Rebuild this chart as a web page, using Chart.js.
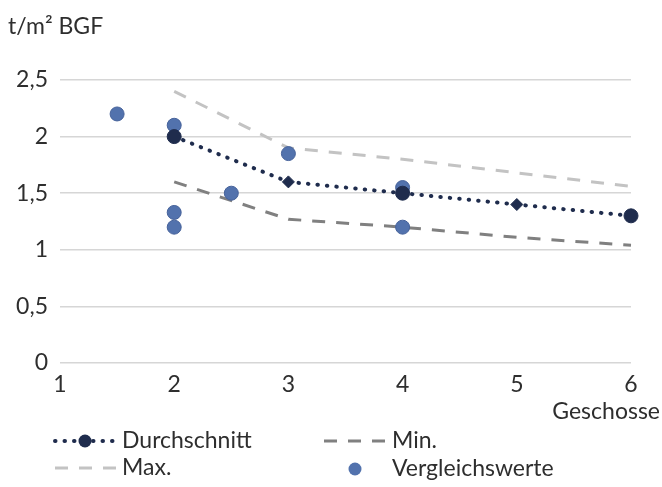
<!DOCTYPE html>
<html>
<head>
<meta charset="utf-8">
<script src="https://cdn.jsdelivr.net/npm/chart.js"></script>
<style>
  html, body { margin: 0; padding: 0; background: #fff; }
  #wrap { width: 662px; height: 487px; }
</style>
</head>
<body>
<div id="wrap"><canvas id="chart" width="662" height="487"></canvas></div>
<script>
// Werte
const geschosse = [2, 3, 4, 5, 6];
const durchschnitt = [2.0, 1.6, 1.5, 1.4, 1.3];
const maxWerte = [2.4, 1.9, 1.8, 1.68, 1.56];
const minWerte = [1.6, 1.27, 1.2, 1.11, 1.04];
const vergleichX = [1.5, 2, 2, 2, 2.5, 3, 4, 4];
const vergleichY = [2.2, 2.1, 1.33, 1.2, 1.5, 1.85, 1.55, 1.2];
const xTicks = [1, 2, 3, 4, 5, 6];
const yTicks = [0, 0.5, 1, 1.5, 2, 2.5];

const FONT = 'Lato, "Noto Sans", sans-serif';
const TEXT = '#2e2e2e';
const NAVY = '#1f2c4d';
const BLUE = '#5272ad';
const MAXGREY = '#c3c3c3';
const MINGREY = '#808080';

const toPoints = (xs, ys) => xs.map((x, i) => ({ x: x, y: ys[i] }));

const extras = {
  id: 'extras',
  afterDraw(chart) {
    const ctx = chart.ctx;
    ctx.save();
    ctx.fillStyle = TEXT;
    ctx.font = '23px ' + FONT;
    ctx.textBaseline = 'middle';
    ctx.textAlign = 'left';
    ctx.fillText('t/m² BGF', 8, 27);
    ctx.textAlign = 'right';
    ctx.fillText('Geschosse', 660, 412);

    // Legende
    ctx.textAlign = 'left';
    ctx.lineWidth = 4;
    ctx.lineCap = 'round';
    ctx.strokeStyle = NAVY;
    ctx.setLineDash([0.5, 9]);
    ctx.beginPath(); ctx.moveTo(55, 441); ctx.lineTo(116, 441); ctx.stroke();
    ctx.setLineDash([]);
    ctx.fillStyle = NAVY;
    ctx.beginPath(); ctx.arc(85, 441, 6.5, 0, Math.PI * 2); ctx.fill();

    ctx.lineCap = 'butt';
    ctx.lineWidth = 3;
    ctx.setLineDash([13, 11]);
    ctx.strokeStyle = MINGREY;
    ctx.beginPath(); ctx.moveTo(324, 441); ctx.lineTo(391, 441); ctx.stroke();
    ctx.strokeStyle = MAXGREY;
    ctx.beginPath(); ctx.moveTo(55, 468); ctx.lineTo(120, 468); ctx.stroke();
    ctx.setLineDash([]);

    ctx.fillStyle = BLUE;
    ctx.beginPath(); ctx.arc(355, 469, 6.5, 0, Math.PI * 2); ctx.fill();

    ctx.fillStyle = TEXT;
    ctx.fillText('Durchschnitt', 122, 441);
    ctx.fillText('Min.', 392, 441);
    ctx.fillText('Max.', 122, 468);
    ctx.fillText('Vergleichswerte', 392, 469);
    ctx.restore();
  }
};

new Chart(document.getElementById('chart'), {
  type: 'scatter',
  data: {
    datasets: [
      {
        label: 'Max.',
        data: toPoints(geschosse, maxWerte),
        showLine: true,
        borderColor: MAXGREY,
        borderWidth: 3,
        borderDash: [13, 11],
        pointRadius: 0,
        tension: 0,
        clip: false,
        order: 4
      },
      {
        label: 'Min.',
        data: toPoints(geschosse, minWerte),
        showLine: true,
        borderColor: MINGREY,
        borderWidth: 3,
        borderDash: [13, 11],
        pointRadius: 0,
        tension: 0,
        clip: false,
        order: 3
      },
      {
        label: 'Vergleichswerte',
        data: toPoints(vergleichX, vergleichY),
        backgroundColor: BLUE,
        borderColor: '#46629a',
        borderWidth: 1,
        pointRadius: 7,
        clip: false,
        order: 2
      },
      {
        label: 'Durchschnitt',
        data: toPoints(geschosse, durchschnitt),
        showLine: true,
        borderColor: NAVY,
        borderWidth: 4,
        borderDash: [0.5, 9],
        borderCapStyle: 'round',
        backgroundColor: NAVY,
        pointBorderColor: NAVY,
        pointBorderWidth: 1,
        pointStyle: ['circle', 'rectRot', 'circle', 'rectRot', 'circle'],
        pointRadius: [7, 6, 7, 6, 7],
        tension: 0,
        clip: false,
        order: 1
      }
    ]
  },
  options: {
    responsive: false,
    animation: false,
    devicePixelRatio: 1,
    layout: { padding: { top: 80, right: 31, left: 0, bottom: 0 } },
    plugins: {
      legend: { display: false },
      tooltip: { enabled: false }
    },
    scales: {
      x: {
        type: 'linear',
        min: 1,
        max: 6,
        afterBuildTicks: (scale) => { scale.ticks = xTicks.map(v => ({ value: v })); },
        grid: { display: false, drawTicks: false },
        border: { display: false },
        ticks: { color: TEXT, font: { family: FONT, size: 23 }, padding: 8, maxRotation: 0 },
        afterFit: (scale) => { scale.height = 124; }
      },
      y: {
        min: 0,
        max: 2.5,
        afterBuildTicks: (scale) => { scale.ticks = yTicks.map(v => ({ value: v })); },
        grid: { color: '#d6d6d6', lineWidth: 1.5, drawTicks: false },
        border: { display: false },
        ticks: {
          color: TEXT,
          font: { family: FONT, size: 23 },
          padding: 12,
          callback: (v) => String(v).replace('.', ',')
        },
        afterFit: (scale) => { scale.width = 60; }
      }
    }
  },
  plugins: [extras]
});
</script>
</body>
</html>
